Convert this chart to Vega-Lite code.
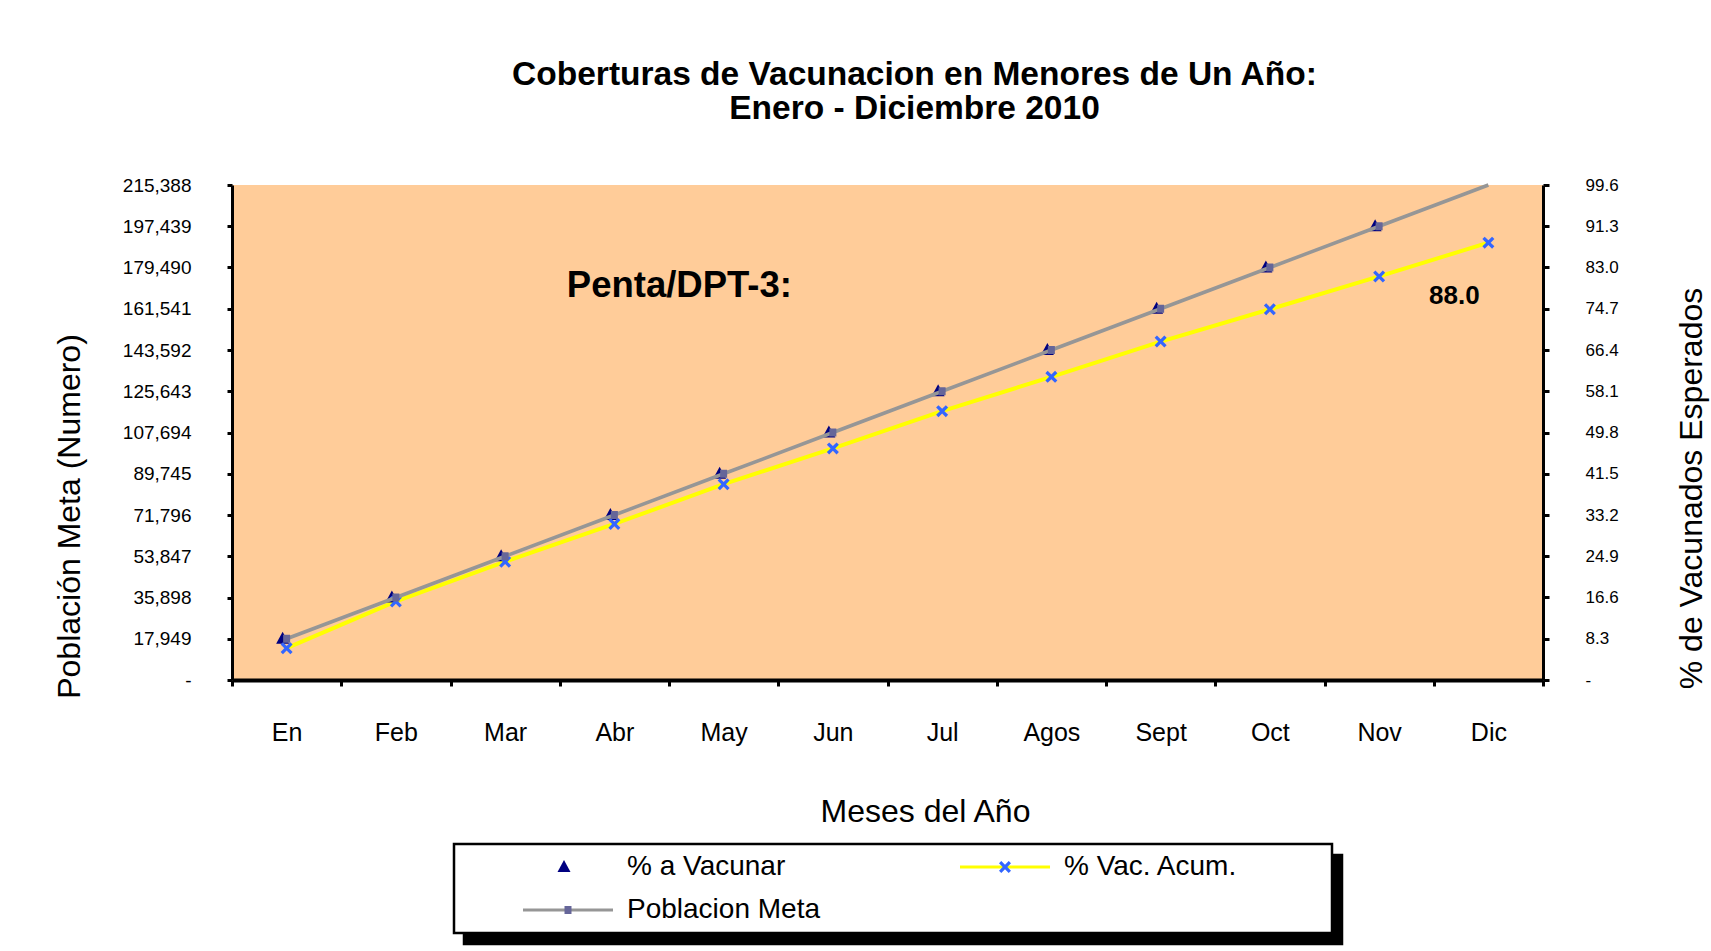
{
  "$schema": "https://vega.github.io/schema/vega-lite/v6.json",
  "width": 1311,
  "height": 495,
  "autosize": {"type": "none"},
  "padding": {"left": 232, "top": 185, "right": 168, "bottom": 271},
  "background": "white",
  "title": {
    "text": ["Coberturas de Vacunacion en Menores de Un Año:", "Enero - Diciembre 2010"],
    "fontSize": 33.5,
    "fontWeight": "bold",
    "font": "Liberation Sans",
    "color": "black",
    "lineHeight": 34,
    "anchor": "middle",
    "dx": 27,
    "offset": 50
  },
  "datasets": {
    "d": [
      {"serie": "% a Vacunar", "mes": "En", "m": 1, "v": 8.3},
      {"serie": "% a Vacunar", "mes": "Feb", "m": 2, "v": 16.6},
      {"serie": "% a Vacunar", "mes": "Mar", "m": 3, "v": 24.9},
      {"serie": "% a Vacunar", "mes": "Abr", "m": 4, "v": 33.2},
      {"serie": "% a Vacunar", "mes": "May", "m": 5, "v": 41.5},
      {"serie": "% a Vacunar", "mes": "Jun", "m": 6, "v": 49.8},
      {"serie": "% a Vacunar", "mes": "Jul", "m": 7, "v": 58.1},
      {"serie": "% a Vacunar", "mes": "Agos", "m": 8, "v": 66.4},
      {"serie": "% a Vacunar", "mes": "Sept", "m": 9, "v": 74.7},
      {"serie": "% a Vacunar", "mes": "Oct", "m": 10, "v": 83.0},
      {"serie": "% a Vacunar", "mes": "Nov", "m": 11, "v": 91.3},
      {"serie": "% Vac. Acum.", "mes": "En", "m": 1, "v": 6.4},
      {"serie": "% Vac. Acum.", "mes": "Feb", "m": 2, "v": 15.8},
      {"serie": "% Vac. Acum.", "mes": "Mar", "m": 3, "v": 23.8},
      {"serie": "% Vac. Acum.", "mes": "Abr", "m": 4, "v": 31.4},
      {"serie": "% Vac. Acum.", "mes": "May", "m": 5, "v": 39.4},
      {"serie": "% Vac. Acum.", "mes": "Jun", "m": 6, "v": 46.6},
      {"serie": "% Vac. Acum.", "mes": "Jul", "m": 7, "v": 54.1},
      {"serie": "% Vac. Acum.", "mes": "Agos", "m": 8, "v": 61.0},
      {"serie": "% Vac. Acum.", "mes": "Sept", "m": 9, "v": 68.1},
      {"serie": "% Vac. Acum.", "mes": "Oct", "m": 10, "v": 74.6},
      {"serie": "% Vac. Acum.", "mes": "Nov", "m": 11, "v": 81.2},
      {"serie": "% Vac. Acum.", "mes": "Dic", "m": 12, "v": 88.0},
      {"serie": "Poblacion Meta", "mes": "En", "m": 1, "v": 17949},
      {"serie": "Poblacion Meta", "mes": "Feb", "m": 2, "v": 35898},
      {"serie": "Poblacion Meta", "mes": "Mar", "m": 3, "v": 53847},
      {"serie": "Poblacion Meta", "mes": "Abr", "m": 4, "v": 71796},
      {"serie": "Poblacion Meta", "mes": "May", "m": 5, "v": 89745},
      {"serie": "Poblacion Meta", "mes": "Jun", "m": 6, "v": 107694},
      {"serie": "Poblacion Meta", "mes": "Jul", "m": 7, "v": 125643},
      {"serie": "Poblacion Meta", "mes": "Agos", "m": 8, "v": 143592},
      {"serie": "Poblacion Meta", "mes": "Sept", "m": 9, "v": 161541},
      {"serie": "Poblacion Meta", "mes": "Oct", "m": 10, "v": 179490},
      {"serie": "Poblacion Meta", "mes": "Nov", "m": 11, "v": 197439},
      {"serie": "Poblacion Meta", "mes": "Dic", "m": 12, "v": 215388}
    ]
  },
  "data": {"name": "d"},
  "layer": [
    {
      "encoding": {
        "x": {
          "field": "mes", "type": "nominal", "bandPosition": 0.5,
          "scale": {"type": "band", "domain": ["En", "Feb", "Mar", "Abr", "May", "Jun", "Jul", "Agos", "Sept", "Oct", "Nov", "Dic"], "paddingInner": 0, "paddingOuter": 0},
          "axis": {"orient": "bottom", "title": "Meses del Año", "labelAngle": 0, "labelFontSize": 25, "labelPadding": 34, "tickBand": "extent", "tickSize": 6, "tickWidth": 3, "domainWidth": 4, "titleFontSize": 32, "titleX": 693, "titleY": 131, "titleAlign": "center", "titleBaseline": "middle"}
        },
        "y": {
          "field": "v", "type": "quantitative",
          "scale": {"domain": [0, 99.6], "nice": false, "zero": true},
          "axis": {"orient": "right", "values": [0, 8.3, 16.6, 24.9, 33.2, 41.5, 49.8, 58.1, 66.4, 74.7, 83.0, 91.3, 99.6], "labelExpr": "datum.value == 0 ? '-' : format(datum.value, '.1f')", "labelFontSize": 17, "labelPadding": 36, "tickSize": 6, "tickWidth": 3, "domainWidth": 3, "title": "% de Vacunados Esperados", "titleFontSize": 32, "titleAngle": 270, "titleX": 148, "titleY": 303, "titleAlign": "center", "titleBaseline": "middle"}
        }
      },
      "layer": [
        {
          "transform": [{"filter": "datum.serie != 'Poblacion Meta'"}],
          "mark": {"type": "line", "strokeWidth": 4},
          "encoding": {
            "order": {"field": "m", "type": "quantitative"},
            "stroke": {
              "field": "serie", "type": "nominal",
              "scale": {"domain": ["% a Vacunar", "% Vac. Acum.", "Poblacion Meta"], "range": ["transparent", "#FFFF00", "#969696"]},
              "legend": {"orient": "none", "direction": "horizontal", "legendX": 222, "legendY": 659, "columns": 2, "columnPadding": 9, "rowPadding": 15, "padding": 9, "fillColor": "white", "strokeColor": "black", "title": null, "symbolType": "M-10.4,0M31.2,0M-4.5,0H4.5", "symbolSize": 400, "symbolOffset": 91, "symbolStrokeWidth": 3, "symbolOpacity": 1, "labelOffset": 45, "labelFont": "Liberation Sans", "labelFontSize": 28, "labelLimit": 500, "labelColor": "black"}
            },
            "fill": {
              "field": "serie", "type": "nominal",
              "scale": {"domain": ["Poblacion Meta", "% Vac. Acum.", "% a Vacunar"], "range": ["transparent", "transparent", "transparent"]},
              "legend": {"orient": "none", "direction": "horizontal", "legendX": 232, "legendY": 670, "columns": 2, "columnPadding": 9, "rowPadding": 15, "padding": 9, "fillColor": "black", "strokeColor": "black", "title": null, "symbolType": "M-10.4,0M31.2,0M-4.5,0H4.5", "symbolSize": 400, "symbolOffset": 91, "symbolStrokeWidth": 3, "symbolStrokeColor": "transparent", "symbolFillColor": "transparent", "symbolOpacity": 1, "labelOffset": 45, "labelFont": "Liberation Sans", "labelFontSize": 28, "labelLimit": 500, "labelOpacity": 0, "labelExpr": "' '"}
            }
          }
        },
        {
          "transform": [{"filter": "datum.serie != 'Poblacion Meta' && datum.m > 0"}],
          "mark": {"type": "point", "filled": true, "opacity": 1, "size": 400, "strokeWidth": 0},
          "encoding": {
            "color": {
              "field": "serie", "type": "nominal",
              "scale": {"domain": ["% a Vacunar", "% Vac. Acum.", "Poblacion Meta", "-"], "range": ["#000080", "#3366FF", "#666699", "transparent"]},
              "legend": {"orient": "none", "direction": "horizontal", "legendX": 222, "legendY": 659, "columns": 2, "columnPadding": 9, "rowPadding": 15, "padding": 9, "title": null, "symbolSize": 400, "symbolOffset": 91, "symbolStrokeWidth": 3, "symbolStrokeColor": "transparent", "symbolOpacity": 1, "labelOffset": 45, "labelFont": "Liberation Sans", "labelFontSize": 28, "labelLimit": 500, "labelOpacity": 0, "labelExpr": "' '"}
            },
            "shape": {
              "field": "serie", "type": "nominal",
              "scale": {"domain": ["% a Vacunar", "% Vac. Acum.", "Poblacion Meta", "-"], "range": [
                "M-10.4,0M31.2,0M-0.4,-0.7L0.25,0.5L-1.05,0.5Z",
                "M-10.4,0M31.2,0M-0.6,-0.37L-0.37,-0.6L0,-0.23L0.37,-0.6L0.6,-0.37L0.23,0L0.6,0.37L0.37,0.6L0,0.23L-0.37,0.6L-0.6,0.37L-0.23,0Z",
                "M-10.4,0M31.2,0M-0.35,-0.4H0.35V0.4H-0.35Z",
                "M-10.4,0M31.2,0M-0.1,-0.1H0.1V0.1H-0.1Z"
              ]},
              "legend": {"orient": "none", "direction": "horizontal", "legendX": 222, "legendY": 659, "columns": 2, "columnPadding": 9, "rowPadding": 15, "padding": 9, "title": null, "symbolSize": 400, "symbolOffset": 91, "symbolStrokeWidth": 3, "symbolStrokeColor": "transparent", "symbolOpacity": 1, "labelOffset": 45, "labelFont": "Liberation Sans", "labelFontSize": 28, "labelLimit": 500, "labelOpacity": 0, "labelExpr": "' '"}
            }
          }
        },
        {
          "data": {"values": [{"mes": "Dic", "v": 77.3, "texto": "88.0"}]},
          "mark": {"type": "text", "fontSize": 26, "fontWeight": "bold", "font": "Liberation Sans", "dx": -34, "align": "center", "baseline": "middle", "color": "black"},
          "encoding": {"text": {"field": "texto", "type": "nominal"}}
        }
      ]
    },
    {
      "encoding": {
        "x": {
          "field": "mes", "type": "nominal", "bandPosition": 0.5,
          "scale": {"type": "band", "domain": ["En", "Feb", "Mar", "Abr", "May", "Jun", "Jul", "Agos", "Sept", "Oct", "Nov", "Dic"], "paddingInner": 0, "paddingOuter": 0},
          "axis": {"orient": "bottom", "title": "Meses del Año", "labelAngle": 0, "labelFontSize": 25, "labelPadding": 34, "tickBand": "extent", "tickSize": 6, "tickWidth": 3, "domainWidth": 4, "titleFontSize": 32, "titleX": 693, "titleY": 131, "titleAlign": "center", "titleBaseline": "middle"}
        },
        "y": {
          "field": "v", "type": "quantitative",
          "scale": {"domain": [0, 215388], "nice": false, "zero": true},
          "axis": {"orient": "left", "values": [0, 17949, 35898, 53847, 71796, 89745, 107694, 125643, 143592, 161541, 179490, 197439, 215388], "labelExpr": "datum.value == 0 ? '-' : format(datum.value, ',')", "labelFontSize": 19, "labelPadding": 36, "tickSize": 5, "tickWidth": 3, "domainWidth": 3, "title": "Población Meta (Numero)", "titleFontSize": 32, "titleAngle": 270, "titleX": -163, "titleY": 331, "titleAlign": "center", "titleBaseline": "middle"}
        }
      },
      "layer": [
        {
          "transform": [{"filter": "datum.serie == 'Poblacion Meta'"}],
          "mark": {"type": "line", "strokeWidth": 3.5},
          "encoding": {
            "order": {"field": "m", "type": "quantitative"},
            "stroke": {
              "field": "serie", "type": "nominal",
              "scale": {"domain": ["% a Vacunar", "% Vac. Acum.", "Poblacion Meta"], "range": ["transparent", "#FFFF00", "#969696"]},
              "legend": {"orient": "none", "direction": "horizontal", "legendX": 222, "legendY": 659, "columns": 2, "columnPadding": 9, "rowPadding": 15, "padding": 9, "fillColor": "white", "strokeColor": "black", "title": null, "symbolType": "M-10.4,0M31.2,0M-4.5,0H4.5", "symbolSize": 400, "symbolOffset": 91, "symbolStrokeWidth": 3, "symbolOpacity": 1, "labelOffset": 45, "labelFont": "Liberation Sans", "labelFontSize": 28, "labelLimit": 500, "labelColor": "black"}
            },
            "fill": {
              "field": "serie", "type": "nominal",
              "scale": {"domain": ["Poblacion Meta", "% Vac. Acum.", "% a Vacunar"], "range": ["transparent", "transparent", "transparent"]},
              "legend": {"orient": "none", "direction": "horizontal", "legendX": 232, "legendY": 670, "columns": 2, "columnPadding": 9, "rowPadding": 15, "padding": 9, "fillColor": "black", "strokeColor": "black", "title": null, "symbolType": "M-10.4,0M31.2,0M-4.5,0H4.5", "symbolSize": 400, "symbolOffset": 91, "symbolStrokeWidth": 3, "symbolStrokeColor": "transparent", "symbolFillColor": "transparent", "symbolOpacity": 1, "labelOffset": 45, "labelFont": "Liberation Sans", "labelFontSize": 28, "labelLimit": 500, "labelOpacity": 0, "labelExpr": "' '"}
            }
          }
        },
        {
          "transform": [{"filter": "datum.serie == 'Poblacion Meta' && datum.m < 12"}],
          "mark": {"type": "point", "filled": true, "opacity": 1, "size": 400, "strokeWidth": 0},
          "encoding": {
            "color": {
              "field": "serie", "type": "nominal",
              "scale": {"domain": ["% a Vacunar", "% Vac. Acum.", "Poblacion Meta", "-"], "range": ["#000080", "#3366FF", "#666699", "transparent"]},
              "legend": {"orient": "none", "direction": "horizontal", "legendX": 222, "legendY": 659, "columns": 2, "columnPadding": 9, "rowPadding": 15, "padding": 9, "title": null, "symbolSize": 400, "symbolOffset": 91, "symbolStrokeWidth": 3, "symbolStrokeColor": "transparent", "symbolOpacity": 1, "labelOffset": 45, "labelFont": "Liberation Sans", "labelFontSize": 28, "labelLimit": 500, "labelOpacity": 0, "labelExpr": "' '"}
            },
            "shape": {
              "field": "serie", "type": "nominal",
              "scale": {"domain": ["% a Vacunar", "% Vac. Acum.", "Poblacion Meta", "-"], "range": [
                "M-10.4,0M31.2,0M-0.4,-0.7L0.25,0.5L-1.05,0.5Z",
                "M-10.4,0M31.2,0M-0.6,-0.37L-0.37,-0.6L0,-0.23L0.37,-0.6L0.6,-0.37L0.23,0L0.6,0.37L0.37,0.6L0,0.23L-0.37,0.6L-0.6,0.37L-0.23,0Z",
                "M-10.4,0M31.2,0M-0.35,-0.4H0.35V0.4H-0.35Z",
                "M-10.4,0M31.2,0M-0.1,-0.1H0.1V0.1H-0.1Z"
              ]},
              "legend": {"orient": "none", "direction": "horizontal", "legendX": 222, "legendY": 659, "columns": 2, "columnPadding": 9, "rowPadding": 15, "padding": 9, "title": null, "symbolSize": 400, "symbolOffset": 91, "symbolStrokeWidth": 3, "symbolStrokeColor": "transparent", "symbolOpacity": 1, "labelOffset": 45, "labelFont": "Liberation Sans", "labelFontSize": 28, "labelLimit": 500, "labelOpacity": 0, "labelExpr": "' '"}
            }
          }
        },
        {
          "data": {"values": [{"mes": "Abr", "v": 171440, "texto": "Penta/DPT-3:"}]},
          "mark": {"type": "text", "fontSize": 36.5, "fontWeight": "bold", "font": "Liberation Sans", "dx": 65, "align": "center", "baseline": "middle", "color": "black"},
          "encoding": {"text": {"field": "texto", "type": "nominal"}}
        }
      ]
    }
  ],
  "resolve": {"scale": {"y": "independent"}},
  "config": {
    "font": "Liberation Sans",
    "view": {"fill": "#FFCC99", "stroke": null},
    "legend": {"strokeWidth": 2.5},
    "axis": {"grid": false, "domainColor": "black", "tickColor": "black", "labelColor": "black", "titleColor": "black", "titleFontWeight": "normal", "labelFont": "Liberation Sans", "titleFont": "Liberation Sans"}
  }
}
